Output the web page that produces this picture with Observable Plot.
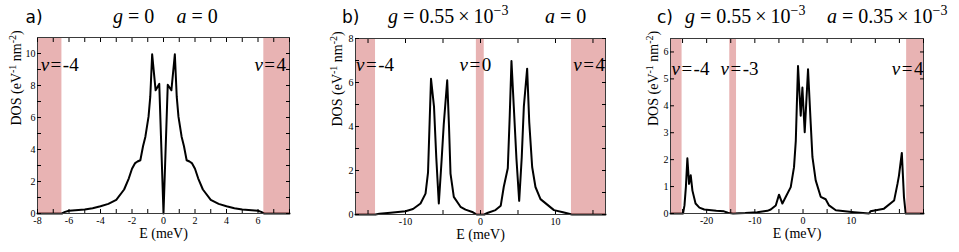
<!DOCTYPE html>
<html><head><meta charset="utf-8">
<script src="https://cdn.jsdelivr.net/npm/d3@7"></script>
<script src="https://cdn.jsdelivr.net/npm/@observablehq/plot@0.6"></script>
<style>
body{margin:0;background:#fff;}
#wrap{position:relative;width:959px;height:252px;overflow:hidden;background:#fff;}
.panel{position:absolute;top:0;height:252px;}
#titles{position:absolute;left:0;top:0;pointer-events:none;}
</style>
</head><body>
<div id="wrap"></div>
<script>
// ---- Panel a: g=0, a=0 ----
const Ea = [-8,-6.45,-6.25,-6.0,-5.0,-4.5,-4.0,-3.5,-3.0,-2.5,-2.2,-2.0,-1.8,-1.65,-1.47,-1.3,-1.15,-0.95,-0.84,-0.72,-0.5,-0.27,0,0.27,0.5,0.72,0.84,0.95,1.15,1.3,1.47,1.65,1.8,2.0,2.2,2.5,3.0,3.5,4.0,4.5,5.0,6.0,6.2,6.4,8];
const Da = [0,0,0.1,0.17,0.25,0.33,0.45,0.6,0.85,1.5,2.2,2.8,3.15,3.25,3.33,4.2,4.8,6.05,7.3,9.95,7.7,8.1,0,8.05,7.7,9.95,7.3,6.05,4.8,4.2,3.33,3.25,3.15,2.8,2.2,1.5,0.85,0.6,0.45,0.33,0.25,0.17,0.1,0,0];
const shadeA1 = [-8, 6.37];
const shadeA2 = [-6.45, 8];
const xTicksA = [-8,-7,-6,-5,-4,-3,-2,-1,0,1,2,3,4,5,6,7,8];
const xLabelsA = [-8,-6,-4,-2,0,2,4,6];
const yTicksA = [0,1,2,3,4,5,6,7,8,9,10];
const yLabelsA = [0,2,4,6,8,10];

// ---- Panel b: g=0.55e-3, a=0 ----
const Eb = [-16.67,-14,-13.5,-12,-10,-9,-8,-7.33,-7.0,-6.6,-6.2,-5.9,-5.56,-5.2,-4.9,-4.44,-4.2,-4.0,-3.56,-2.67,-2.0,-1.0,-0.5,0.5,1.0,2.0,2.7,3.1,3.64,3.9,4.13,4.44,4.8,5.16,5.5,5.78,6.22,6.5,6.89,7.33,8.0,9.8,11,12.2,16.67];
const Db = [0,0,0.03,0.08,0.15,0.25,0.5,0.95,1.9,6.17,4.9,2.6,0.5,2.4,4.1,6.1,4.0,1.86,0.8,0.35,0.22,0.1,0,0,0.08,0.2,0.4,1.25,2.1,4.5,6.98,4.9,2.5,0.62,2.6,4.9,6.63,4.2,2.16,1.25,0.7,0.2,0.1,0,0];
const shadeB1 = [-16.67, -0.55, 12.13];
const shadeB2 = [-14, 0.5, 16.67];
const xTicksB = [-15,-10,-5,0,5,10,15];
const xLabelsB = [-10,0,10];
const yTicksB = [0,1,2,3,4,5,6,7,8];
const yLabelsB = [0,2,4,6,8];

// ---- Panel c: g=0.55e-3, a=0.35e-3 ----
const Ec = [-27.5,-24.9,-24.6,-24.3,-24.0,-23.65,-23.3,-22.95,-22.3,-21.5,-20.5,-18,-16.4,-15.6,-14.5,-12,-9.5,-7.4,-6.7,-5.66,-4.98,-4.28,-3.6,-2.55,-1.87,-1.5,-1.3,-1.04,-0.48,-0.13,0.35,1.04,1.6,1.95,2.63,3.67,4.7,5.4,6.8,10.6,13.7,14.0,16.8,18.9,19.6,19.9,20.5,20.95,21.3,25];
const Dc = [0,0,0.3,1.0,2.05,1.1,1.42,0.85,0.37,0.22,0.15,0.1,0.08,0.03,0,0.02,0.05,0.1,0.15,0.3,0.7,0.37,0.61,0.98,1.72,2.7,3.94,5.48,3.63,4.68,3.02,5.36,3.33,2.1,1.23,0.62,0.53,0.3,0.12,0.05,0,0.08,0.18,0.48,1.1,1.4,2.25,0.6,0,0];
const shadeC1 = [-27.5, -15.2, 21.5];
const shadeC2 = [-25.1, -13.8, 25];
const xTicksC = [-25,-20,-15,-10,-5,0,5,10,15,20,25];
const xLabelsC = [-20,-10,0,10];
const yTicksC = [0,1,2,3,4,5,6];
const yLabelsC = [0,1,2,3,4,5,6];

// filling-factor annotations
const nuTextA = ["ν=-4","ν=4"];
const nuTextB = ["ν=-4","ν=0","ν=4"];
const nuTextC = ["ν=-4","ν=-3","ν=4"];

const wrap = document.getElementById("wrap");

function makePanel(cfg) {
  const data = cfg.E.map((e,i)=>({E:e, D:cfg.D[i]}));
  const shades = cfg.s1.map((a,i)=>({x1:a, x2:cfg.s2[i]}));
  const labels = cfg.nu.map((t,i)=>({t, x:cfg.nuX[i], y:cfg.nuY, a:cfg.nuA[i]}));
  const fx = d => cfg.xLab.includes(d) ? String(d) : "";
  const fy = d => cfg.yLab.includes(d) ? String(d) : "";
  const svg = Plot.plot({
    width: cfg.w, height: 252,
    marginLeft: cfg.ml, marginRight: cfg.mr, marginTop: cfg.mt, marginBottom: cfg.mb,
    x: {domain: cfg.xd}, y: {domain: cfg.yd},
    style: {fontFamily: "'Liberation Serif', serif", fontSize: "10px", color: "#000", background: "transparent", overflow: "visible"},
    marks: [
      Plot.line(data, {x:"E", y:"D", stroke:"#000", strokeWidth:2, strokeLinejoin:"round"}),
      Plot.rect(shades, {x1:"x1", x2:"x2", fill:"rgb(200,75,75)", fillOpacity:0.42}),
      Plot.frame({stroke:"#3a3a3a"}),
      Plot.axisX(cfg.xt, {anchor:"bottom", tickSize:-4, tickPadding:7, tickFormat:fx, label:null}),
      Plot.axisX(cfg.xt, {anchor:"top", tickSize:-4, tickFormat:()=>"", label:null}),
      Plot.axisY(cfg.yt, {anchor:"left", tickSize:-4, tickPadding:6, tickFormat:fy, label:null}),
      Plot.axisY(cfg.yt, {anchor:"right", tickSize:-4, tickFormat:()=>"", label:null}),
      Plot.text(["E (meV)"], {frameAnchor:"bottom", dy:24, lineAnchor:"bottom", fontSize:14}),
      Plot.text(["DOS (eV-1 nm-2)"], {frameAnchor:"left", rotate:-90, dx:cfg.ylo, fontSize:14}),
      Plot.text(labels.filter(d=>d.a==="start"), {x:"x", y:"y", text:"t", textAnchor:"start", lineAnchor:"bottom", fontSize:19}),
      Plot.text(labels.filter(d=>d.a==="end"), {x:"x", y:"y", text:"t", textAnchor:"end", lineAnchor:"bottom", fontSize:19})
    ]
  });
  svg.querySelectorAll("text").forEach(t => {
    const s = t.textContent;
    if (s.startsWith("ν")) {
      t.innerHTML = '<tspan font-style="italic">ν</tspan><tspan dx="1.5">=</tspan><tspan dx="1.5">' + s.slice(2) + '</tspan>';
    } else if (s.startsWith("DOS")) {
      t.innerHTML = 'DOS (eV<tspan dy="-5" font-size="10">-1</tspan><tspan dy="5"> nm</tspan><tspan dy="-5" font-size="10">-2</tspan><tspan dy="5">)</tspan>';
    }
  });
  const div = document.createElement("div");
  div.className = "panel";
  div.style.left = cfg.left + "px";
  div.appendChild(svg);
  wrap.appendChild(div);
}

makePanel({E:Ea, D:Da, s1:shadeA1, s2:shadeA2, xt:xTicksA, xLab:xLabelsA, yt:yTicksA, yLab:yLabelsA,
  xd:[-8,8], yd:[0,11], w:320, left:0, ml:37, mr:31, mt:37, mb:39, ylo:-20.5,
  nu:nuTextA, nuX:[-7.8,7.78], nuA:["start","end"], nuY:8.9});
makePanel({E:Eb, D:Db, s1:shadeB1, s2:shadeB2, xt:xTicksB, xLab:xLabelsB, yt:yTicksB, yLab:yLabelsB,
  xd:[-16.67,16.67], yd:[0,8], w:320, left:320, ml:35, mr:35, mt:38, mb:38, ylo:-18.3,
  nu:nuTextB, nuX:[-16.6,-2.8,16.6], nuA:["start","start","end"], nuY:6.53});
makePanel({E:Ec, D:Dc, s1:shadeC1, s2:shadeC2, xt:xTicksC, xLab:xLabelsC, yt:yTicksC, yLab:yLabelsC,
  xd:[-27.5,25], yd:[0,6.5], w:319, left:640, ml:30, mr:36, mt:38, mb:39, ylo:-16.5,
  nu:nuTextC, nuX:[-27.3,-17.1,25], nuA:["start","start","end"], nuY:5.15});

// panel titles
const titles = d3.select("#wrap").append("svg").attr("id","titles").attr("width",959).attr("height",40);
const tags = [{t:"a)", x:25.5},{t:"b)", x:342},{t:"c)", x:657}];
titles.selectAll("text.tag").data(tags).join("text").attr("class","tag")
  .attr("x", d=>d.x).attr("y", 23).attr("font-family","'DejaVu Sans', sans-serif").attr("font-size",17).text(d=>d.t);
function mathTitle(x, sym, val, exp) {
  const t = titles.append("text").attr("x", x).attr("y", 23)
    .attr("font-family","'Liberation Serif', serif").attr("font-size",20);
  t.append("tspan").attr("font-style","italic").text(sym);
  t.append("tspan").attr("dx",5).text("=");
  t.append("tspan").attr("dx",5).text(val);
  if (exp) {
    t.append("tspan").attr("dx",4).text("×");
    t.append("tspan").attr("dx",4).text("10");
    t.append("tspan").attr("dy",-8).attr("font-size",14).text(exp);
  }
}
mathTitle(113, "g", "0");
mathTitle(176.5, "a", "0");
mathTitle(388, "g", "0.55", "−3");
mathTitle(545, "a", "0");
mathTitle(685, "g", "0.55", "−3");
mathTitle(827, "a", "0.35", "−3");
</script>
</body></html>
